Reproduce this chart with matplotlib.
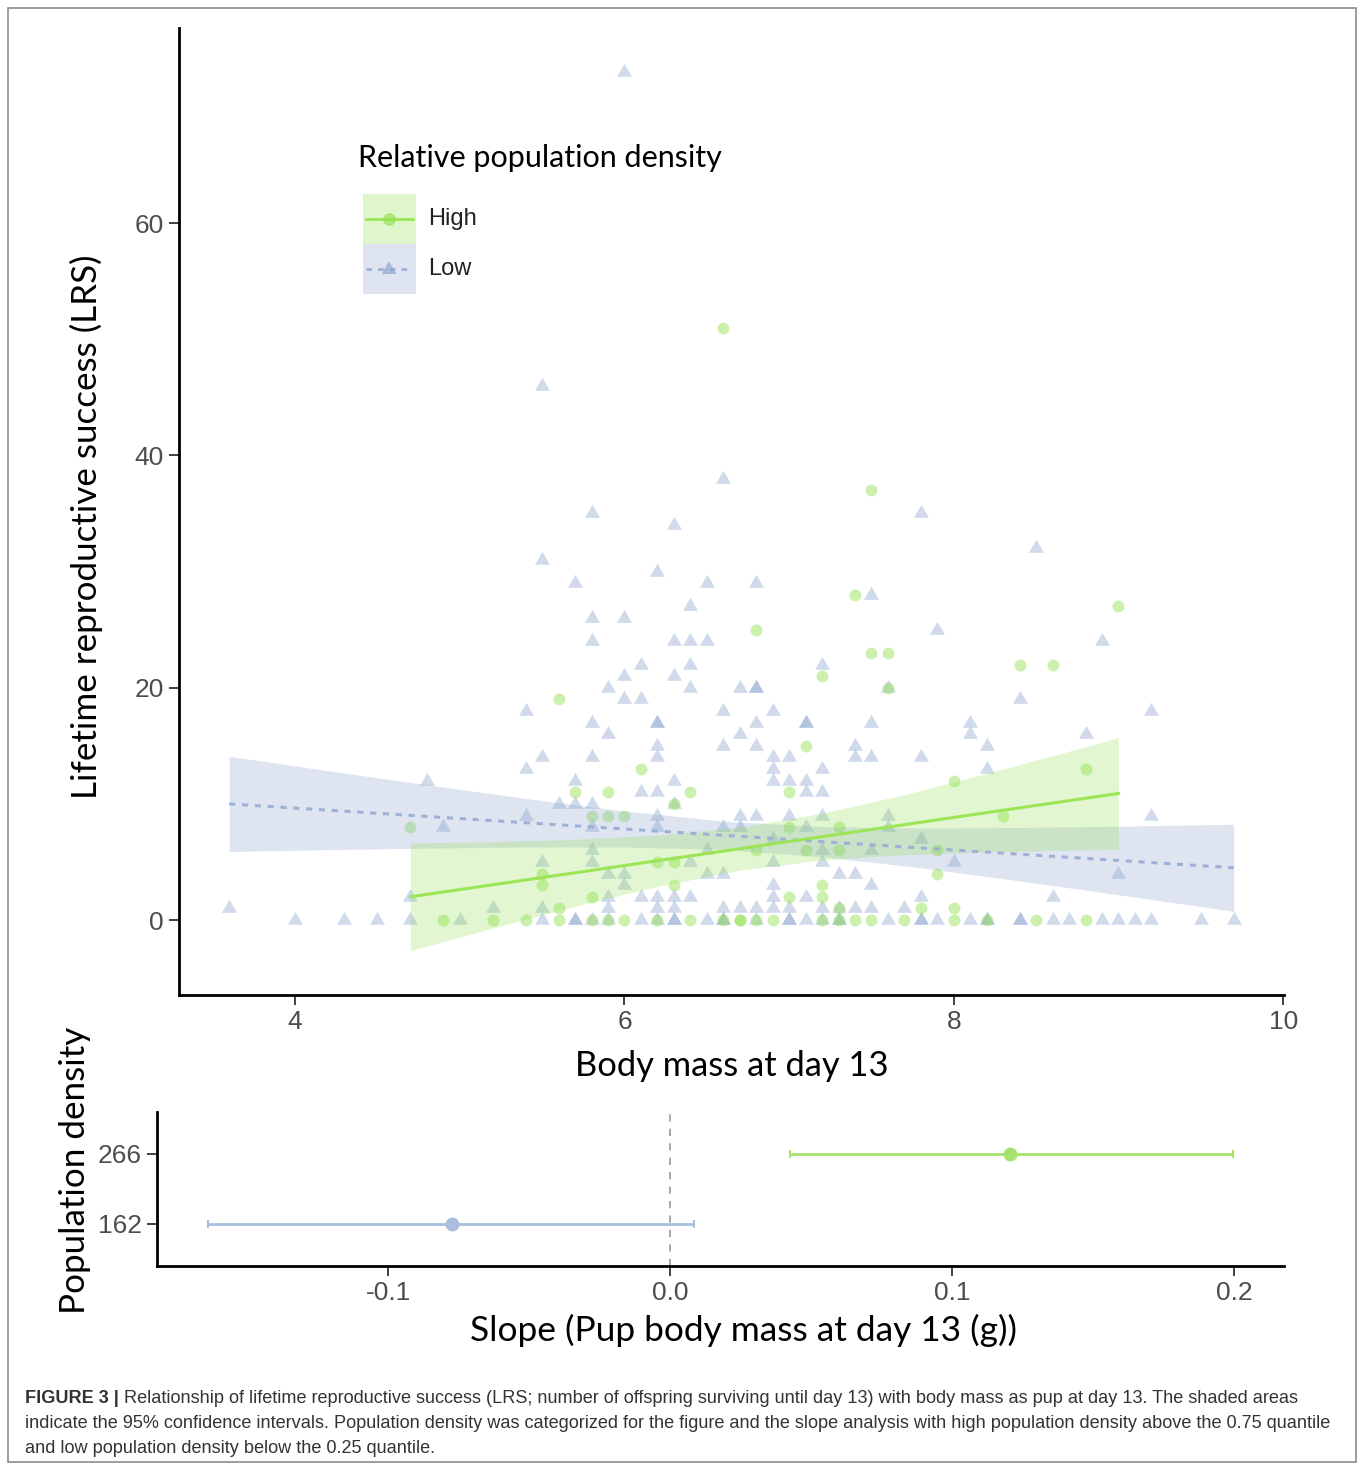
import matplotlib.pyplot as plt
from matplotlib.patches import Rectangle
from matplotlib.lines import Line2D

plt.rcParams['font.family'] = ['Liberation Sans', 'DejaVu Sans']
TITLE_FONT = ['Lato', 'DejaVu Sans']

# ---- values ----
# low relative population density (triangles): body mass at day 13, LRS
low_mass = [
    6.0, 5.5, 6.6, 5.8, 7.8, 6.3, 8.5, 5.5, 6.2,
    5.7, 6.5, 6.8, 7.5, 6.4, 5.8, 6.0, 7.9,
    5.8, 6.3, 6.4, 6.5, 8.9, 6.1, 6.4, 7.2, 6.0, 6.3,
    5.9, 6.4, 6.7, 6.8, 6.8, 7.6, 6.0, 6.1, 8.4,
    5.4, 6.6, 6.9, 9.2, 5.8, 6.2, 6.2, 6.8, 7.1, 7.1, 7.5, 8.1,
    5.9, 6.7, 8.1, 8.8, 6.2, 6.6, 6.8, 7.4, 8.2,
    5.5, 5.8, 6.2, 6.9, 7.0, 7.4, 7.5, 7.8, 5.4, 6.9, 7.2, 8.2,
    4.8, 5.7, 6.3, 6.9, 7.0, 7.1, 6.1, 6.2, 7.1, 7.2,
    5.6, 5.7, 5.8, 6.3, 5.4, 6.2, 6.7, 6.8, 7.0, 7.2, 7.6, 9.2,
    4.9, 5.8, 6.2, 6.6, 6.7, 7.1, 7.6, 6.9, 7.8,
    5.8, 6.5, 7.2, 7.5, 5.5, 5.8, 6.4, 6.9, 7.2, 8.0,
    5.9, 6.0, 6.5, 6.6, 7.3, 7.4, 9.0, 6.0, 6.9, 7.5,
    4.7, 5.9, 6.1, 6.2, 6.3, 6.4, 6.9, 7.1, 7.8, 8.6,
    3.6, 5.2, 5.5, 5.9, 6.2, 6.3, 6.6, 6.7, 6.8, 6.9, 7.0, 7.2, 7.3, 7.4, 7.5, 7.7,
    4.0, 4.3, 4.5, 4.7, 5.0, 5.5, 5.7, 5.7, 5.8, 5.9, 6.1, 6.2, 6.3, 6.3,
    6.5, 6.6, 6.6, 6.8, 7.0, 7.0, 7.1, 7.2, 7.3, 7.3, 7.6, 7.8, 7.8, 7.9,
    8.1, 8.2, 8.2, 8.4, 8.4, 8.6, 8.7, 8.9, 9.0, 9.1, 9.2, 9.5, 9.7,
]
low_lrs = [
    73, 46, 38, 35, 35, 34, 32, 31, 30,
    29, 29, 29, 28, 27, 26, 26, 25,
    24, 24, 24, 24, 24, 22, 22, 22, 21, 21,
    20, 20, 20, 20, 20, 20, 19, 19, 19,
    18, 18, 18, 18, 17, 17, 17, 17, 17, 17, 17, 17,
    16, 16, 16, 16, 15, 15, 15, 15, 15,
    14, 14, 14, 14, 14, 14, 14, 14, 13, 13, 13, 13,
    12, 12, 12, 12, 12, 12, 11, 11, 11, 11,
    10, 10, 10, 10, 9, 9, 9, 9, 9, 9, 9, 9,
    8, 8, 8, 8, 8, 8, 8, 7, 7,
    6, 6, 6, 6, 5, 5, 5, 5, 5, 5,
    4, 4, 4, 4, 4, 4, 4, 3, 3, 3,
    2, 2, 2, 2, 2, 2, 2, 2, 2, 2,
    1, 1, 1, 1, 1, 1, 1, 1, 1, 1, 1, 1, 1, 1, 1, 1,
    0, 0, 0, 0, 0, 0, 0, 0, 0, 0, 0, 0, 0, 0,
    0, 0, 0, 0, 0, 0, 0, 0, 0, 0, 0, 0, 0, 0,
    0, 0, 0, 0, 0, 0, 0, 0, 0, 0, 0, 0, 0,
]

# high relative population density (circles)
high_mass = [
    6.6, 7.5, 7.4, 9.0, 6.8, 7.5, 7.6, 8.4, 8.6, 7.2, 7.6, 5.6, 7.1,
    6.1, 8.8, 8.0, 5.7, 5.9, 6.4, 7.0, 6.3, 5.8, 5.9, 6.0, 8.3,
    4.7, 7.0, 7.3, 6.8, 7.1, 7.3, 7.9, 6.2, 6.3, 5.5, 7.9,
    5.5, 6.3, 7.2, 5.8, 7.0, 7.2, 5.6, 7.3, 7.8, 8.0,
    4.9, 5.2, 5.4, 5.6, 5.8, 5.9, 6.0, 6.2, 6.4, 6.6, 6.7, 6.7,
    6.8, 6.9, 7.2, 7.3, 7.4, 7.5, 7.7, 8.0, 8.2, 8.5, 8.8,
]
high_lrs = [
    51, 37, 28, 27, 25, 23, 23, 22, 22, 21, 20, 19, 15,
    13, 13, 12, 11, 11, 11, 11, 10, 9, 9, 9, 9,
    8, 8, 8, 6, 6, 6, 6, 5, 5, 4, 4,
    3, 3, 3, 2, 2, 2, 1, 1, 1, 1,
    0, 0, 0, 0, 0, 0, 0, 0, 0, 0, 0, 0,
    0, 0, 0, 0, 0, 0, 0, 0, 0, 0, 0,
]

# fitted lines and 95% CI bands (read from the shaded areas)
low_fit_x = [3.6, 4.2, 4.8, 5.4, 6.0, 6.6, 7.2, 7.8, 8.4, 9.0, 9.7]
low_fit_y = [10.0, 9.46, 8.92, 8.38, 7.84, 7.30, 6.75, 6.21, 5.67, 5.13, 4.50]
low_ci_lo = [5.90, 6.06, 6.19, 6.29, 6.29, 6.08, 5.45, 4.50, 3.37, 2.18, 0.75]
low_ci_hi = [14.10, 12.86, 11.65, 10.47, 9.39, 8.52, 8.05, 7.92, 7.97, 8.08, 8.25]

high_fit_x = [4.7, 5.2, 5.7, 6.2, 6.7, 7.2, 7.7, 8.2, 8.6, 9.0]
high_fit_y = [2.0, 3.04, 4.07, 5.11, 6.14, 7.18, 8.21, 9.25, 10.07, 10.9]
high_ci_lo = [-2.63, -0.69, 1.18, 2.90, 4.29, 5.17, 5.62, 5.87, 5.99, 6.09]
high_ci_hi = [6.63, 6.76, 6.96, 7.32, 8.00, 9.19, 10.80, 12.63, 14.15, 15.71]

# slope estimates per population density
density_labels = ['162', '266']
slope_est = [-0.0775, 0.1205]
slope_lo = [-0.1638, 0.0425]
slope_hi = [0.0085, 0.1995]

GREEN = '#8fe04a'
BLUE = '#8aa3cf'
GREEN_LINE = '#9be556'
BLUE_LINE = '#9db0d6'
TICK_GRAY = '#4d4d4d'
TRI = [(0, 0.577), (-0.5, -0.289), (0.5, -0.289)]

fig = plt.figure(figsize=(13.58, 14.63), dpi=100)

# ---------------- main panel ----------------
ax = fig.add_axes([0.1318, 0.3199, 0.8137, 0.661])
ax.scatter(low_mass, low_lrs, marker=TRI, s=156, color=BLUE, alpha=0.4, lw=0, zorder=2)
ax.scatter(high_mass, high_lrs, marker='o', s=74, color=GREEN, alpha=0.45, lw=0, zorder=2)
ax.fill_between(low_fit_x, low_ci_lo, low_ci_hi, color=BLUE, alpha=0.28, lw=0, zorder=3)
ax.fill_between(high_fit_x, high_ci_lo, high_ci_hi, color=GREEN, alpha=0.25, lw=0, zorder=3)
ax.plot(low_fit_x, low_fit_y, color=BLUE_LINE, lw=2.2, ls=(0, (2, 2.2)), zorder=4)
ax.plot(high_fit_x, high_fit_y, color=GREEN_LINE, lw=2.2, zorder=4)

ax.set_xlim(3.295, 10.005)
ax.set_ylim(-6.45, 76.8)
ax.set_xticks([4, 6, 8, 10])
ax.set_yticks([0, 20, 40, 60])
for s in ['top', 'right']:
    ax.spines[s].set_visible(False)
for s in ['left', 'bottom']:
    ax.spines[s].set_linewidth(2)
ax.tick_params(length=7, width=1.3, color='#333333', labelsize=19, labelcolor=TICK_GRAY, pad=4)
ax.set_xlabel('Body mass at day 13', fontsize=24.8, family=TITLE_FONT)
ax.set_ylabel('Lifetime reproductive success (LRS)', fontsize=25.2, family=TITLE_FONT)
ax.xaxis.set_label_coords(0.5, -0.057)
ax.yaxis.set_label_coords(-0.069, 0.484)

# legend, drawn by hand so the key boxes touch like in the original
ax.text(0.162, 0.8656, 'Relative population density', transform=ax.transAxes,
        fontsize=22, family=TITLE_FONT, va='center', ha='left')
keys = [('High', GREEN, GREEN_LINE, '-', 'o', 0.8283), ('Low', BLUE, BLUE_LINE, (0, (2, 2.2)), TRI, 0.7766)]
for label, fill, lc, ls, mk, top in keys:
    ax.add_patch(Rectangle((0.1665, top - 0.0517), 0.048, 0.0517, transform=ax.transAxes,
                           facecolor=fill, alpha=0.28, lw=0, clip_on=False))
    yc = top - 0.0517 / 2
    ax.add_line(Line2D([0.1695, 0.2115], [yc, yc], transform=ax.transAxes, color=lc, lw=2, ls=ls))
    ax.add_line(Line2D([0.1905], [yc], transform=ax.transAxes, marker=mk, ms=8 if mk == 'o' else 11,
                       color=fill, alpha=0.6, lw=0))
    ax.text(0.2253, yc, label, transform=ax.transAxes, fontsize=17, va='center', ha='left', color='#222222')

# ---------------- slope panel ----------------
ax2 = fig.add_axes([0.1156, 0.1347, 0.8299, 0.1053])
ax2.axvline(0, color='#a0a0a0', lw=1.3, ls=(0, (4, 4)), zorder=1)
slope_colors = ['#a9bee0', '#a5e46c']
for i in range(len(slope_est)):
    ax2.errorbar([slope_est[i]], [i + 1],
                 xerr=[[slope_est[i] - slope_lo[i]], [slope_hi[i] - slope_est[i]]],
                 fmt='o', color=slope_colors[i], ms=9, elinewidth=2, capsize=3, capthick=1.5, zorder=2)
ax2.set_xlim(-0.182, 0.2177)
ax2.set_ylim(0.4, 2.6)
ax2.set_yticks([1, 2])
ax2.set_yticklabels(density_labels)
ax2.set_xticks([-0.1, 0.0, 0.1, 0.2])
ax2.set_xticklabels(['-0.1', '0.0', '0.1', '0.2'])
for s in ['top', 'right']:
    ax2.spines[s].set_visible(False)
for s in ['left', 'bottom']:
    ax2.spines[s].set_linewidth(2)
ax2.tick_params(length=7, width=1.3, color='#333333', labelsize=19, labelcolor=TICK_GRAY, pad=4)
ax2.set_xlabel('Slope (Pup body mass at day 13 (g))', fontsize=25.4, family=TITLE_FONT)
ax2.set_ylabel('Population density', fontsize=25.2, family=TITLE_FONT)
ax2.xaxis.set_label_coords(0.52, -0.31)
ax2.yaxis.set_label_coords(-0.0586, 0.623)

# ---------------- frame and caption ----------------
fig.patches.append(Rectangle((0.0059, 0.0007), 0.9926, 0.9938, transform=fig.transFigure,
                             fill=False, edgecolor='#8c8c8c', lw=1.2))
cap_color = '#333333'
cap_size = 13.05
t1 = fig.text(0.0184, 0.041, 'FIGURE 3 |', fontsize=cap_size, weight='bold', color=cap_color, va='baseline')
fig.canvas.draw()
ann = plt.annotate(' Relationship of lifetime reproductive success (LRS; number of offspring surviving until day 13) '
                   'with body mass as pup at day 13. The shaded areas',
                   xy=(1, 0), xycoords=t1, va='bottom', ha='left', fontsize=cap_size, color=cap_color,
                   annotation_clip=False)
fig.text(0.0184, 0.0239, 'indicate the 95% confidence intervals. Population density was categorized for the figure '
         'and the slope analysis with high population density above the 0.75 quantile',
         fontsize=cap_size, color=cap_color, va='baseline')
fig.text(0.0184, 0.0068, 'and low population density below the 0.25 quantile.',
         fontsize=cap_size, color=cap_color, va='baseline')

fig.savefig('out.png', dpi=100)
